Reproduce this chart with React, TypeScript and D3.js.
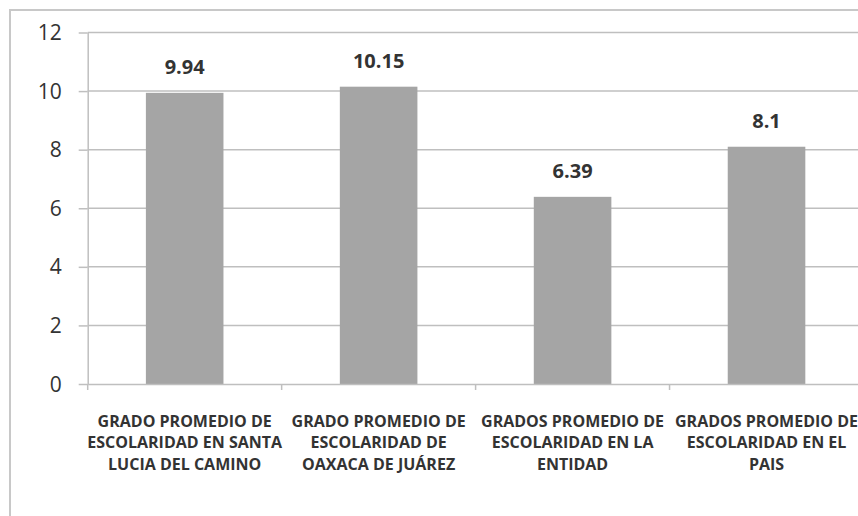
import React, { useEffect, useRef } from "react";
import { select, scaleBand, scaleLinear, axisLeft, axisBottom } from "d3";

const categories = [
  "GRADO PROMEDIO DE ESCOLARIDAD EN SANTA LUCIA DEL CAMINO",
  "GRADO PROMEDIO DE ESCOLARIDAD DE OAXACA DE JUÁREZ",
  "GRADOS PROMEDIO DE ESCOLARIDAD EN LA ENTIDAD",
  "GRADOS PROMEDIO DE ESCOLARIDAD EN EL PAIS",
];
const categoryLines = [
  ["GRADO PROMEDIO DE", "ESCOLARIDAD EN SANTA", "LUCIA DEL CAMINO"],
  ["GRADO PROMEDIO DE", "ESCOLARIDAD DE", "OAXACA DE JUÁREZ"],
  ["GRADOS PROMEDIO DE", "ESCOLARIDAD EN LA", "ENTIDAD"],
  ["GRADOS PROMEDIO DE", "ESCOLARIDAD EN EL", "PAIS"],
];
const values = [9.94, 10.15, 6.39, 8.1];
const yTicks = [0, 2, 4, 6, 8, 10, 12];

const W = 858;
const H = 516;
const FONT = "'Open Sans', sans-serif";

export default function App() {
  const svgRef = useRef<SVGSVGElement>(null);

  useEffect(() => {
    const svg = select(svgRef.current);
    svg.selectAll("*").remove();

    const left = 87.7, right = 863.5, top = 32.5, bottom = 384;

    // outer chart border (cut off at right/bottom like the reference)
    svg.append("rect")
      .attr("x", 10).attr("y", 10)
      .attr("width", 870).attr("height", 530)
      .attr("fill", "white")
      .attr("stroke", "#c8c8c8").attr("stroke-width", 2);

    const x = scaleBand<string>().domain(categories).range([left, right]).paddingInner(0).paddingOuter(0);
    const y = scaleLinear().domain([0, 12]).range([bottom, top]);
    const barW = x.bandwidth() / 2.5;

    // gridlines
    svg.append("g")
      .selectAll("line")
      .data(yTicks.filter((d) => d > 0))
      .join("line")
      .attr("x1", left).attr("x2", W)
      .attr("y1", (d) => y(d)).attr("y2", (d) => y(d))
      .attr("stroke", "#bfbfbf").attr("stroke-width", 1.5);

    // y axis
    const yAxis = svg.append("g")
      .attr("transform", `translate(${left},0)`)
      .call(axisLeft(y).tickValues(yTicks).tickSize(9).tickPadding(17).tickSizeOuter(0));
    yAxis.select(".domain").attr("stroke", "#bfbfbf").attr("stroke-width", 1.5);
    yAxis.selectAll(".tick line").attr("stroke", "#bfbfbf").attr("stroke-width", 1.5);
    yAxis.selectAll(".tick text")
      .attr("font-family", FONT).attr("font-size", 21).attr("fill", "#333333")
      .attr("dy", "0.34em");

    // bars
    svg.append("g")
      .selectAll("rect")
      .data(values)
      .join("rect")
      .attr("x", (d, i) => x(categories[i])! + x.bandwidth() / 2 - barW / 2)
      .attr("width", barW)
      .attr("y", (d) => y(d))
      .attr("height", (d) => bottom - y(d))
      .attr("fill", "#a5a5a5");

    // x axis
    const xAxis = svg.append("g")
      .attr("transform", `translate(0,${bottom})`)
      .call(axisBottom(x).tickValues([]).tickSizeOuter(0));
    xAxis.select(".domain").attr("stroke", "#bfbfbf").attr("stroke-width", 1.5);
    xAxis.selectAll("line.sep")
      .data([0, 1, 2, 3])
      .join("line")
      .attr("class", "sep")
      .attr("x1", (i) => x(categories[i])!).attr("x2", (i) => x(categories[i])!)
      .attr("y1", 0).attr("y2", 6)
      .attr("stroke", "#bfbfbf").attr("stroke-width", 1.5);

    // value labels
    svg.append("g")
      .selectAll("text")
      .data(values)
      .join("text")
      .text((d) => String(d))
      .attr("x", (d, i) => x(categories[i])! + x.bandwidth() / 2)
      .attr("y", (d) => y(d) - 18.5)
      .attr("text-anchor", "middle")
      .attr("font-family", FONT).attr("font-weight", "bold")
      .attr("font-size", 20).attr("fill", "#333333");

    // category labels
    const cat = svg.append("g")
      .selectAll("text")
      .data(categoryLines)
      .join("text")
      .attr("text-anchor", "middle")
      .attr("font-family", FONT).attr("font-weight", "bold")
      .attr("font-size", 16).attr("fill", "#333333");
    cat.each(function (lines, i) {
      select(this)
        .selectAll("tspan")
        .data(lines)
        .join("tspan")
        .attr("x", x(categories[i])! + x.bandwidth() / 2)
        .attr("y", (d, j) => 426.7 + j * 21.7)
        .text((d) => d);
    });
  }, []);

  return (
    <svg
      ref={svgRef}
      width={W}
      height={H}
      style={{ position: "absolute", left: 0, top: 0, background: "white" }}
    />
  );
}
